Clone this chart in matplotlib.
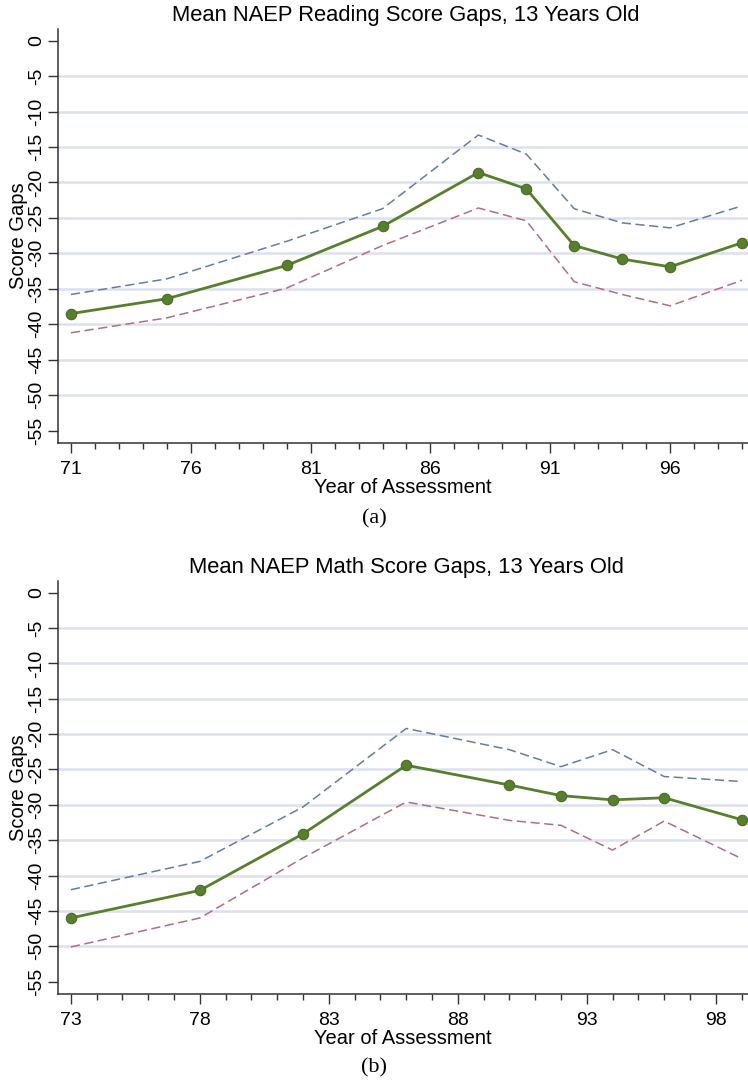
import matplotlib
matplotlib.use("Agg")
import matplotlib.pyplot as plt
import numpy as np

# reading, 13 year olds
read_years = [71, 75, 80, 84, 88, 90, 92, 94, 96, 99]
read_gap = [-38.5, -36.4, -31.7, -26.2, -18.6, -20.9, -28.9, -30.8, -31.9, -28.5]
read_upper = [-35.8, -33.6, -28.3, -23.7, -13.3, -16.0, -23.7, -25.7, -26.4, -23.3]
read_lower = [-41.2, -39.1, -34.9, -28.9, -23.6, -25.4, -34.0, -35.8, -37.4, -33.8]

# math, 13 year olds
math_years = [73, 78, 82, 86, 90, 92, 94, 96, 99]
math_gap = [-46.0, -42.1, -34.1, -24.4, -27.2, -28.7, -29.3, -29.0, -32.1]
math_upper = [-42.0, -38.0, -30.3, -19.2, -22.2, -24.6, -22.2, -26.0, -26.7]
math_lower = [-50.1, -46.0, -37.5, -29.6, -32.2, -32.9, -36.4, -32.3, -37.6]

yticks = list(range(0, -60, -5))
green = "#587f2c"
blue = "#6a7aa3"
red = "#b36d80"
grid_col = "#dde1ef"
font = "Liberation Sans"

W, H = 748, 1085
fig = plt.figure(figsize=(W / 100, H / 100), dpi=100)


def panel(bottom_px, top_px, years, gap, up, lo, first_tick, xlo, title, tag, tag_y):
    ax = fig.add_axes([58 / W, 1 - bottom_px / H, 1 - 58 / W, (bottom_px - top_px) / H])
    for v in yticks[1:-1]:
        ax.axhline(v, color=grid_col, lw=1.8, zorder=0)
    ax.plot(years, up, color=blue, lw=1.1, dashes=(6, 3))
    ax.plot(years, lo, color=red, lw=1.1, dashes=(6, 3))
    ax.plot(years, gap, color=green, lw=2.0, marker="o", ms=7.5,
            mfc=green, mec="#4a6b25", mew=0.8)
    ax.set_xlim(xlo, 99.25)
    ax.set_ylim(-56.75, 1.65)
    ax.set_yticks(yticks)
    ax.set_yticklabels([str(v) for v in yticks], rotation=90, va="center",
                       family=font, fontsize=14)
    majors = list(range(first_tick, 100, 5))
    ax.set_xticks(majors)
    ax.set_xticklabels([str(v) for v in majors], family=font, fontsize=14)
    ax.set_xticks(list(range(first_tick, 100)), minor=True)
    ax.tick_params(axis="x", which="major", length=7, width=1, color="#333333", pad=6)
    ax.tick_params(axis="x", which="minor", length=4, width=1, color="#333333")
    ax.tick_params(axis="y", length=7, width=1, color="#333333", pad=2)
    for s in ["top", "right"]:
        ax.spines[s].set_visible(False)
    for s in ["left", "bottom"]:
        ax.spines[s].set_color("#333333")
        ax.spines[s].set_linewidth(1.1)
    ax.set_xlabel("Year of Assessment", family=font, fontsize=14.5, labelpad=0)
    ax.set_ylabel("Score Gaps", family=font, fontsize=14.5, labelpad=0)
    fig.text(406 / W, 1 - (top_px - 14) / H, title, ha="center", va="center",
             family=font, fontsize=15.8)
    fig.text(374 / W, 1 - tag_y / H, tag, ha="center", va="center",
             family="Liberation Serif", fontsize=16)
    return ax


panel(443, 29, read_years, read_gap, read_upper, read_lower, 71, 70.46,
      "Mean NAEP Reading Score Gaps, 13 Years Old", "(a)", 519)
panel(994, 581, math_years, math_gap, math_upper, math_lower, 73, 72.5,
      "Mean NAEP Math Score Gaps, 13 Years Old", "(b)", 1068)

fig.savefig("out.png", dpi=100)
